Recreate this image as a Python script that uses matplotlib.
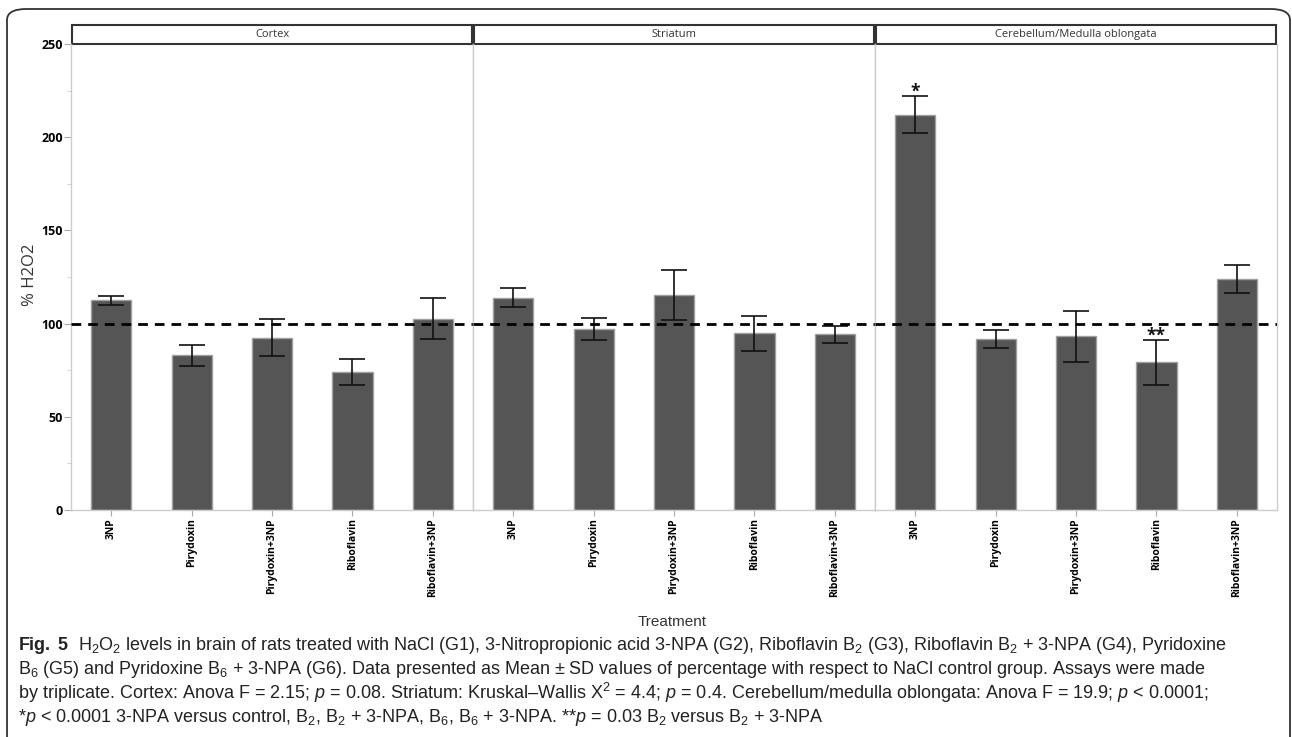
import matplotlib
matplotlib.use("Agg")
import matplotlib.pyplot as plt
from matplotlib.patches import Rectangle, FancyBboxPatch
from matplotlib.ticker import MultipleLocator

plt.rcParams['font.family'] = ['Open Sans', 'DejaVu Sans']
plt.rcParams['mathtext.fontset'] = 'custom'
plt.rcParams['mathtext.rm'] = 'Liberation Sans'
plt.rcParams['mathtext.it'] = 'Liberation Sans:italic'
plt.rcParams['mathtext.bf'] = 'Liberation Sans:bold'

treatments = ["3NP", "Pirydoxin", "Pirydoxin+3NP", "Riboflavin", "Riboflavin+3NP"]
regions = ["Cortex", "Striatum", "Cerebellum/Medulla oblongata"]

cortex_mean = [112.5, 83.0, 92.5, 74.0, 102.5]
cortex_sd = [2.5, 5.6, 10.0, 7.0, 11.0]
striatum_mean = [114.0, 97.0, 115.3, 94.7, 94.2]
striatum_sd = [5.0, 6.0, 13.5, 9.3, 4.4]
cereb_mean = [212.0, 91.7, 93.1, 79.2, 123.9]
cereb_sd = [10.0, 4.6, 13.8, 12.0, 7.5]
cereb_marks = ["*", "", "", "**", ""]

means = [cortex_mean, striatum_mean, cereb_mean]
sds = [cortex_sd, striatum_sd, cereb_sd]
marks = [[""] * 5, [""] * 5, cereb_marks]

caption = [
    r"$\bf{Fig.\ 5}$  H$_2$O$_2$ levels in brain of rats treated with NaCl (G1), 3-Nitropropionic acid 3-NPA (G2), "
    r"Riboflavin B$_2$ (G3), Riboflavin B$_2$ + 3-NPA (G4), Pyridoxine",
    r"B$_6$ (G5) and Pyridoxine B$_6$ + 3-NPA (G6). Data presented as Mean ± SD values of percentage "
    r"with respect to NaCl control group. Assays were made",
    r"by triplicate. Cortex: Anova F = 2.15; $\it{p}$ = 0.08. Striatum: Kruskal–Wallis X$^2$ = 4.4; "
    r"$\it{p}$ = 0.4. Cerebellum/medulla oblongata: Anova F = 19.9; $\it{p}$ < 0.0001;",
    r"*$\it{p}$ < 0.0001 3-NPA versus control, B$_2$, B$_2$ + 3-NPA, B$_6$, B$_6$ + 3-NPA. "
    r"**$\it{p}$ = 0.03 B$_2$ versus B$_2$ + 3-NPA",
]

W, H = 1292, 737
fig = plt.figure(figsize=(W / 100, H / 100), dpi=100)

# outer rounded frame
frame = FancyBboxPatch((7 / W, -20 / H), 1283 / W, (H - 9 + 20) / H,
                       boxstyle="round,pad=0,rounding_size=0.015",
                       transform=fig.transFigure, fill=False,
                       edgecolor='#333333', linewidth=1.3, clip_on=False)
fig.patches.append(frame)

left, right = 71, 1277
top, bottom = 44, 510
pw = (right - left) / 3
x = list(range(len(treatments)))
for i in range(3):
    ax = fig.add_axes([(left + i * pw) / W, 1 - bottom / H, pw / W, (bottom - top) / H])
    ax.bar(x, means[i], width=0.5, color='#555555', edgecolor='#a0a0a0', linewidth=1, zorder=2)
    ax.errorbar(x, means[i], yerr=sds[i], fmt='none', ecolor='#111111',
                elinewidth=1.2, capsize=9.7, capthick=1.2, zorder=3)
    for xi, m, s, mk in zip(x, means[i], sds[i], marks[i]):
        if mk:
            ax.text(xi, m + s + 2.3, mk, ha='center', va='center', fontsize=12.5,
                    fontweight='bold', color='#111111', zorder=5)
    ax.axhline(100, color='black', linestyle=(0, (3.5, 2.5)), linewidth=2, zorder=4)
    ax.set_xlim(-0.5, 4.5)
    ax.set_ylim(0, 250)
    ax.set_xticks(x)
    ax.set_xticklabels(treatments, rotation=90, fontsize=7.5, fontweight='bold')
    for sp in ['left', 'right', 'bottom']:
        ax.spines[sp].set_color('#cccccc')
        ax.spines[sp].set_linewidth(1)
    ax.spines['top'].set_visible(False)
    ax.tick_params(axis='x', length=4, color='#aaaaaa', pad=2)
    if i == 0:
        ax.yaxis.set_major_locator(MultipleLocator(50))
        ax.yaxis.set_minor_locator(MultipleLocator(25))
        ax.tick_params(axis='y', which='major', length=5, color='#aaaaaa', labelsize=9, pad=1)
        ax.tick_params(axis='y', which='minor', length=3, color='#cccccc')
        for lab in ax.get_yticklabels():
            lab.set_fontweight('bold')
    else:
        ax.tick_params(axis='y', which='both', left=False, labelleft=False)
    # strip header
    ax.add_patch(Rectangle((0.003, 1.0), 0.994, 19 / (bottom - top), transform=ax.transAxes,
                           fill=False, edgecolor='#333333', linewidth=1.5, clip_on=False))
    ax.text(0.5, 1 + 9.5 / (bottom - top), regions[i], transform=ax.transAxes,
            ha='center', va='center', fontsize=8, color='#333333')

fig.text(30 / W, 1 - 275 / H, "% H2O2", rotation=90, ha='center', va='center',
         fontsize=12, color='#333333')
fig.text(672 / W, 1 - 622 / H, "Treatment", ha='center', va='center',
         fontsize=11, color='#333333', family=['Liberation Sans'])

for k, line in enumerate(caption):
    fig.text(18 / W, 1 - (645 + k * 24) / H, line, ha='left', va='center',
             fontsize=13, color='#222222', family=['Liberation Sans'])

fig.savefig("out.png", dpi=100)
